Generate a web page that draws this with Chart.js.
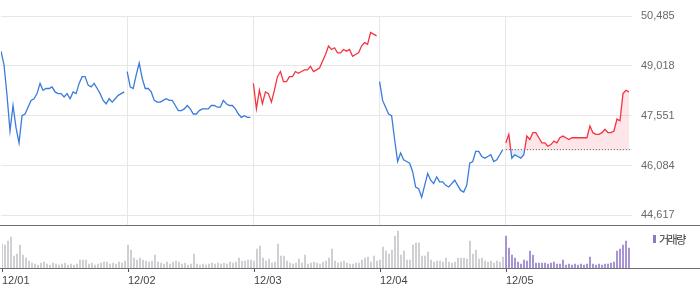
<!DOCTYPE html>
<html><head><meta charset="utf-8">
<script src="https://cdn.jsdelivr.net/npm/chart.js@4"></script>
<style>
html,body{margin:0;padding:0;background:#fff;width:700px;height:289px;overflow:hidden}
#wrap{position:relative;width:700px;height:289px}
#pc{position:absolute;left:0;top:0}
#vc{position:absolute;left:0;top:227px}
.hl{position:absolute;left:0;width:700px;height:1px;background:#6f6f6f}
#legend{position:absolute;left:653px;top:231px;font:11px "Noto Sans CJK KR",sans-serif;color:#333;display:flex;align-items:center;letter-spacing:-1.5px}
#legend i{display:inline-block;width:3px;height:8px;background:#8f78c4;margin-right:3px}
</style></head><body>
<div id="wrap">
<canvas id="pc" width="700" height="241"></canvas>
<canvas id="vc" width="700" height="62"></canvas>
<div class="hl" style="top:225px"></div>
<div class="hl" style="top:268px"></div>
<div id="legend"><i></i><span>거래량</span></div>
</div>
<script>
// ---- data ----
const dayLabels = ['12/01', '12/02', '12/03', '12/04', '12/05'];
const yTickValues = [44617, 46084, 47551, 49018, 50485];

const priceDay1 = [49450,49050,48150,47100,47850,47200,46750,47550,47600,47800,48000,48050,48200,48500,48300,48350,48350,48400,48250,48200,48200,48100,48200,48050,48250,48200,48500,48700,48700,48450,48400,48500,48350,48200,48000,47900,48050,47950,48050,48150,48200,48250];
const priceDay2 = [48850,48400,48350,48750,49100,48650,48350,48350,48250,48000,47950,47950,48000,48050,48000,48000,47850,47700,47700,47750,47850,47750,47600,47600,47700,47750,47750,47750,47850,47850,47800,47800,48000,47900,47850,47850,47750,47600,47500,47550,47500,47500];
const priceDay3 = [48500,47750,48300,47900,48250,48200,47950,48300,48700,48850,48550,48550,48700,48700,48850,48800,48850,48900,48900,49000,48850,48900,48950,49150,49350,49600,49500,49550,49400,49400,49500,49450,49500,49300,49350,49400,49600,49700,49650,50000,49950,49900];
const priceDay4 = [48550,48000,47800,47600,47550,46850,46200,46450,46250,46200,46150,45900,45450,45400,45150,45500,45850,45650,45550,45750,45600,45600,45500,45450,45550,45650,45500,45350,45300,45500,46150,46200,46500,46500,46350,46300,46350,46400,46200,46250,46400,46550];
const priceDay5 = [46750,47000,46300,46400,46350,46300,46400,46950,46850,47050,47050,46900,46750,46750,46650,46700,46800,46750,46900,46950,46900,46850,46900,46900,46900,46900,46900,46900,47250,47050,47000,47000,47050,47150,47050,47050,47100,47450,47400,48200,48300,48250];

const volDay1 = [24000,23000,27000,31000,12000,14000,23000,13000,10000,7000,5000,4000,3000,5000,6000,4000,3000,5000,4000,3000,4000,5000,3000,4000,3000,4000,8000,8000,8000,4000,5000,3000,4000,5000,6000,6000,4000,5000,4000,6000,5000,7000];
const volDay2 = [23000,18000,10000,8000,10000,8000,7000,6000,7000,13000,6000,5000,4000,6000,4000,6000,7000,6000,4000,5000,3000,4000,14000,4000,3000,4000,3000,4000,5000,4000,5000,4000,5000,4000,6000,5000,6000,10000,7000,7000,8000,8000];
const volDay3 = [7000,19000,22000,10000,7000,9000,5000,6000,24000,12000,12000,7000,5000,4000,5000,9000,5000,13000,4000,5000,6000,5000,4000,6000,7000,10000,19000,7000,5000,6000,7000,5000,4000,4000,5000,5000,8000,10000,11000,6000,12000,7000];
const volDay4 = [8000,21000,17000,14000,18000,32000,37000,13000,17000,8000,8000,23000,25000,25000,12000,12000,16000,8000,6000,7000,7000,6000,10000,6000,5000,6000,10000,10000,10000,9000,27000,14000,18000,9000,10000,7000,6000,7000,5000,7000,6000,11000];
const volDay5 = [32000,20000,13000,10000,6000,4000,8000,7000,17000,13000,5000,5000,5000,5000,4000,5000,6000,4000,4000,8000,3000,4000,3000,4000,3000,4000,3000,4000,11000,4000,3000,4000,3000,4000,4000,5000,6000,17000,19000,23000,27000,20000];

// ---- build ----
const priceDays = [priceDay1, priceDay2, priceDay3, priceDay4, priceDay5];
const volDays = [volDay1, volDay2, volDay3, volDay4, volDay5];
const N = priceDay1.length;
const dayStarts = dayLabels.map((_, d) => d * N);
const prevClose = priceDay4[priceDay4.length - 1];

const RED = '#f4333f', BLUE = '#3a7bdc';
const GRID = '#e7e7e7';

const datasets = priceDays.map((arr, d) => {
  const pts = arr.map((v, i) => ({x: d * N + i, y: v}));
  const base = {data: pts, borderWidth: 1.3, pointRadius: 0, tension: 0, fill: false};
  if (d < priceDays.length - 1) {
    const up = d > 0 && arr[arr.length - 1] > priceDays[d - 1][priceDays[d - 1].length - 1];
    base.borderColor = up ? RED : BLUE;
  } else {
    base.borderColor = (ctx) => {
      const chart = ctx.chart, ca = chart.chartArea;
      if (!ca) return RED;
      const y = chart.scales.y.getPixelForValue(prevClose);
      const g = chart.ctx.createLinearGradient(0, ca.top, 0, ca.bottom);
      const s = Math.min(1, Math.max(0, (y - ca.top) / (ca.bottom - ca.top)));
      g.addColorStop(0, RED); g.addColorStop(s, RED);
      g.addColorStop(s, BLUE); g.addColorStop(1, BLUE);
      return g;
    };
    base.fill = {target: {value: prevClose}, above: 'rgba(250,80,90,0.14)', below: 'rgba(70,130,230,0.14)'};
  }
  return base;
});
datasets.push({
  data: [{x: 4 * N, y: prevClose}, {x: 5 * N, y: prevClose}],
  borderColor: '#444', borderWidth: 1, borderDash: [1, 2], pointRadius: 0, fill: false
});

new Chart(document.getElementById('pc'), {
  type: 'line',
  data: {datasets},
  options: {
    responsive: false, animation: false,
    layout: {padding: {left: 1, right: 0, top: 16, bottom: 0}},
    plugins: {legend: {display: false}, tooltip: {enabled: false}},
    scales: {
      x: {
        type: 'linear', min: 0, max: 5 * N,
        afterBuildTicks: s => { s.ticks = dayStarts.map(v => ({value: v})); },
        afterFit: s => { s.height = 0; },
        ticks: {display: false},
        grid: {color: c => c.index === 0 ? 'rgba(0,0,0,0)' : GRID, drawTicks: false, lineWidth: 1},
        border: {display: false}
      },
      y: {
        position: 'right', min: 44320, max: 50485,
        afterBuildTicks: s => { s.ticks = yTickValues.map(v => ({value: v})); },
        afterFit: s => { s.width = 68; },
        ticks: {padding: 9, color: '#6a6a6a', font: {family: 'Liberation Sans, Arial', size: 11},
                callback: v => v.toLocaleString('en-US')},
        grid: {color: GRID, drawTicks: false},
        border: {display: false}
      }
    }
  }
});

const volPts = [];
volDays.forEach((arr, d) => arr.forEach((v, i) => volPts.push({x: d * N + i, y: v})));

new Chart(document.getElementById('vc'), {
  type: 'bar',
  data: {datasets: [{
    data: volPts,
    backgroundColor: c => (c.raw && c.raw.x >= 4 * N) ? '#9580c9' : '#c5c7cb',
    barThickness: 1, grouped: false
  }]},
  options: {
    responsive: false, animation: false,
    layout: {padding: {left: 1, right: 68, top: 2, bottom: 0}},
    plugins: {legend: {display: false}, tooltip: {enabled: false}},
    scales: {
      x: {
        type: 'linear', min: 0, max: 5 * N, offset: false,
        afterBuildTicks: s => { s.ticks = dayStarts.map(v => ({value: v})); },
        afterFit: s => { s.height = 21; },
        ticks: {align: 'start', padding: 2, maxRotation: 0, autoSkip: false, color: '#444',
                font: {family: 'Liberation Sans, Arial', size: 11},
                callback: (v, i) => dayLabels[i]},
        grid: {offset: false, drawOnChartArea: false, drawTicks: true, tickLength: 4, tickColor: '#555'},
        border: {display: false}
      },
      y: {display: false, min: 0, max: 39000}
    }
  }
});
</script>
</body></html>
